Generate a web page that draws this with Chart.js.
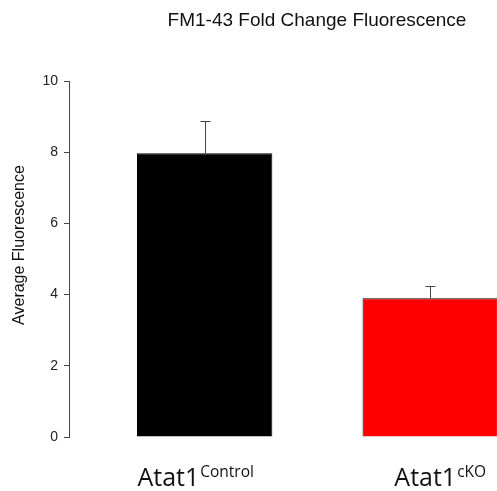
<!DOCTYPE html>
<html lang="en">
<head>
    <meta charset="UTF-8">
    <title>FM1-43 Fold Change Fluorescence</title>
    <script src="https://cdn.jsdelivr.net/npm/chart.js"></script>
    <style>
        html, body { margin: 0; padding: 0; background: #fff; overflow: hidden; }
        #wrap { width: 497px; height: 491px; }
    </style>
</head>
<body>
    <div id="wrap"><canvas id="fmChart"></canvas></div>

    <script>
        // Data
        const groups = ['Atat1', 'Atat1'];
        const groupSup = ['Control', 'cKO'];
        const groupPos = [1, 2];
        const means = [7.97, 3.9];
        const errors = [0.9, 0.35];
        const barColors = ['#000000', '#ff0000'];
        const yTicks = [0, 2, 4, 6, 8, 10];

        // small nudges so the labels sit where they do in the figure
        const labelShift = [-9, 10];

        // Error bars, title, and the superscript group labels
        const extrasPlugin = {
            id: 'extras',
            afterDatasetsDraw(chart) {
                const ctx = chart.ctx;
                const x = chart.scales.x;
                const y = chart.scales.y;
                ctx.save();
                ctx.strokeStyle = '#444';
                ctx.lineWidth = 1;
                means.forEach((m, i) => {
                    const px = Math.round(x.getPixelForValue(groupPos[i])) + 0.5;
                    const top = Math.round(y.getPixelForValue(m + errors[i])) + 0.5;
                    const base = y.getPixelForValue(m);
                    ctx.beginPath();
                    ctx.moveTo(px, base);
                    ctx.lineTo(px, top);
                    ctx.moveTo(px - 5, top);
                    ctx.lineTo(px + 5, top);
                    ctx.stroke();
                });

                // title
                ctx.fillStyle = '#111';
                ctx.font = '19px "Liberation Sans", Arial, sans-serif';
                ctx.textAlign = 'center';
                ctx.textBaseline = 'alphabetic';
                ctx.fillText('FM1-43 Fold Change Fluorescence', 317, 26);

                // y axis title
                ctx.save();
                ctx.translate(24, 245);
                ctx.rotate(-Math.PI / 2);
                ctx.font = '16px "Liberation Sans", Arial, sans-serif';
                ctx.fillText('Average Fluorescence', 0, 0);
                ctx.restore();

                // group labels with superscripts
                const mainFont = '25px "Open Sans", sans-serif';
                const supFont = '15.5px "Open Sans", sans-serif';
                ctx.textAlign = 'left';
                groups.forEach((g, i) => {
                    ctx.font = mainFont;
                    const w1 = ctx.measureText(g).width;
                    ctx.font = supFont;
                    const w2 = ctx.measureText(groupSup[i]).width;
                    const cx = x.getPixelForValue(groupPos[i]) + labelShift[i];
                    const left = cx - (w1 + w2 + 1) / 2;
                    ctx.font = mainFont;
                    ctx.fillText(g, left, 486);
                    ctx.font = supFont;
                    ctx.fillText(groupSup[i], left + w1 + 1, 477);
                });
                ctx.restore();
            }
        };

        const ctx = document.getElementById('fmChart').getContext('2d');
        new Chart(ctx, {
            type: 'bar',
            data: {
                datasets: [{
                    data: groupPos.map((p, i) => ({ x: p, y: means[i] })),
                    backgroundColor: barColors,
                    borderColor: '#000',
                    borderWidth: 1,
                    barPercentage: 0.6,
                    categoryPercentage: 1.0
                }]
            },
            options: {
                responsive: true,
                maintainAspectRatio: false,
                animation: false,
                layout: {
                    padding: { top: 81, bottom: 54, left: 0, right: 0 }
                },
                plugins: {
                    legend: { display: false },
                    tooltip: { enabled: false },
                    title: { display: false }
                },
                scales: {
                    x: {
                        type: 'linear',
                        min: 0.3985,
                        max: 2.296,
                        offset: false,
                        display: false,
                        grid: { display: false, offset: false },
                        afterBuildTicks(scale) {
                            scale.ticks = groupPos.map(v => ({ value: v }));
                        }
                    },
                    y: {
                        min: 0,
                        max: 10,
                        afterFit(scale) { scale.width = 69; },
                        afterBuildTicks(scale) {
                            scale.ticks = yTicks.map(v => ({ value: v }));
                        },
                        border: { display: true, color: '#444', width: 1 },
                        grid: {
                            drawOnChartArea: false,
                            drawTicks: true,
                            tickLength: 5,
                            color: '#444'
                        },
                        ticks: {
                            padding: 6,
                            color: '#222',
                            font: { family: '"Liberation Sans", Arial, sans-serif', size: 14 }
                        }
                    }
                }
            },
            plugins: [extrasPlugin]
        });
    </script>
</body>
</html>
